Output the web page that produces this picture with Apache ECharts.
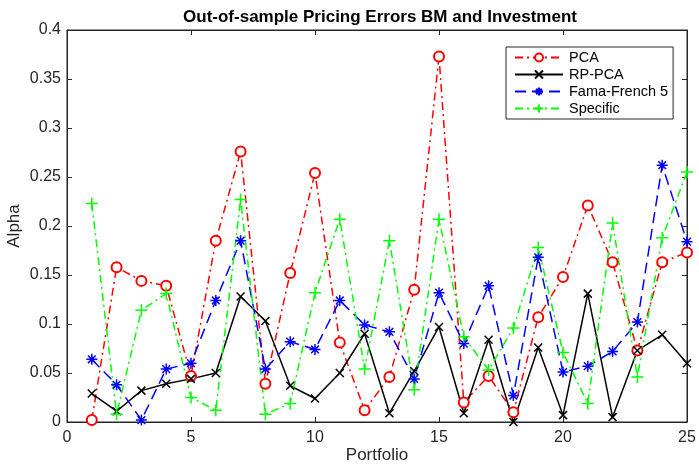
<!DOCTYPE html>
<html>
<head>
<meta charset="utf-8">
<script src="https://cdn.jsdelivr.net/npm/echarts@6/dist/echarts.min.js"></script>
<style>
  html, body { margin: 0; padding: 0; background: #fff; }
  #chart { width: 699px; height: 466px; }
</style>
</head>
<body>
<div id="chart"></div>
<script>
// Portfolio index and out-of-sample alpha for each model
const portfolios = [1,2,3,4,5,6,7,8,9,10,11,12,13,14,15,16,17,18,19,20,21,22,23,24,25];
const pca      = [0.002,0.158,0.144,0.139,0.047,0.185,0.276,0.039,0.152,0.254,0.081,0.012,0.046,0.135,0.373,0.020,0.047,0.010,0.107,0.148,0.221,0.163,0.073,0.163,0.173];
const rppca    = [0.029,0.011,0.032,0.039,0.044,0.050,0.128,0.103,0.037,0.024,0.050,0.090,0.009,0.052,0.097,0.009,0.084,0.000,0.076,0.007,0.131,0.005,0.073,0.089,0.060];
const ff5      = [0.064,0.038,0.002,0.054,0.060,0.124,0.185,0.054,0.082,0.074,0.124,0.099,0.092,0.044,0.132,0.080,0.139,0.027,0.168,0.051,0.057,0.072,0.102,0.262,0.184];
const specific = [0.223,0.008,0.114,0.131,0.025,0.012,0.227,0.008,0.019,0.132,0.207,0.054,0.185,0.033,0.207,0.087,0.053,0.096,0.178,0.071,0.019,0.203,0.046,0.188,0.255];
const xTicks = [0, 5, 10, 15, 20, 25];
const yTicks = [0, 0.05, 0.1, 0.15, 0.2, 0.25, 0.3, 0.35, 0.4];

const pairs = ys => portfolios.map((p, i) => [p, ys[i]]);

const FONT = '"Liberation Sans", Arial, sans-serif';
const INK = '#262626';

const xMark = 'path://M0,0L10,10M10,0L0,10';
const starMark = 'path://M5,0L5,10M0,5L10,5M1.5,1.5L8.5,8.5M8.5,1.5L1.5,8.5';
const plusMark = 'path://M5,0L5,10M0,5L10,5';

// fresh style objects per axis so nothing is shared between components
const axisLineStyle = () => ({ show: true, onZero: false, lineStyle: { color: INK, width: 1 } });
const innerTick = () => ({ show: true, inside: true, length: 5, lineStyle: { color: INK, width: 1 } });

const chart = echarts.init(document.getElementById('chart'));

chart.setOption({
  animation: false,
  backgroundColor: '#fff',
  title: {
    text: 'Out-of-sample Pricing Errors BM and Investment',
    left: 375, top: 4, textAlign: 'center',
    textStyle: { fontFamily: FONT, fontSize: 17, fontWeight: 'bold', color: '#000' }
  },
  legend: {
    orient: 'vertical',
    left: 506, top: 47,
    padding: [3, 5, 3, 8],
    itemGap: 2,
    itemWidth: 48, itemHeight: 10,
    borderColor: INK, borderWidth: 1, backgroundColor: '#fff',
    textStyle: { fontFamily: FONT, fontSize: 14.5, lineHeight: 14.5, color: '#000', padding: [0, 0, 0, 1] },
    data: ['PCA', 'RP-PCA', 'Fama-French 5', 'Specific']
  },
  grid: {
    left: 67, top: 30, width: 620, height: 392, containLabel: false,
    outerBoundsMode: 'none',
    show: true, borderColor: INK, borderWidth: 1, backgroundColor: 'transparent'
  },
  xAxis: [{
    type: 'value', min: 0, max: 25, interval: 5, position: 'bottom',
    name: 'Portfolio', nameLocation: 'middle', nameGap: 25, nameMoveOverlap: false,
    nameTextStyle: { fontFamily: FONT, fontSize: 17, color: INK },
    axisLine: axisLineStyle(), axisTick: innerTick(),
    axisLabel: { fontFamily: FONT, fontSize: 16, color: INK, margin: 8,
      formatter: v => xTicks.includes(v) ? String(v) : '' },
    splitLine: { show: false }
  }, {
    type: 'value', min: 0, max: 25, interval: 5, position: 'top',
    axisLine: axisLineStyle(), axisTick: innerTick(), axisLabel: { show: false }, splitLine: { show: false }
  }],
  yAxis: [{
    type: 'value', min: 0, max: 0.4, interval: 0.05, position: 'left',
    name: 'Alpha', nameLocation: 'middle', nameGap: 44, nameRotate: 90, nameMoveOverlap: false,
    nameTextStyle: { fontFamily: FONT, fontSize: 17, color: INK },
    axisLine: axisLineStyle(), axisTick: innerTick(),
    axisLabel: { fontFamily: FONT, fontSize: 16, color: INK, margin: 6,
      formatter: v => { const t = yTicks.find(k => Math.abs(k - v) < 1e-9); return t === undefined ? '' : String(t); } },
    splitLine: { show: false }
  }, {
    type: 'value', min: 0, max: 0.4, interval: 0.05, position: 'right',
    axisLine: axisLineStyle(), axisTick: innerTick(), axisLabel: { show: false }, splitLine: { show: false }
  }],
  series: [
    {
      name: 'PCA', type: 'line', data: pairs(pca),
      symbol: 'emptyCircle', symbolSize: 10,
      itemStyle: { color: '#ff0000', borderWidth: 1.3 },
      lineStyle: { color: '#ff0000', width: 1.5, type: [8, 4, 2, 4] }
    },
    {
      name: 'RP-PCA', type: 'line', data: pairs(rppca),
      symbol: xMark, symbolSize: 8,
      itemStyle: { color: '#000', borderColor: '#000', borderWidth: 1.5 },
      lineStyle: { color: '#000', width: 1.5, type: 'solid' }
    },
    {
      name: 'Fama-French 5', type: 'line', data: pairs(ff5),
      symbol: starMark, symbolSize: 11,
      itemStyle: { color: '#0000ff', borderColor: '#0000ff', borderWidth: 1.5 },
      lineStyle: { color: '#0000ff', width: 1.5, type: [11, 6] }
    },
    {
      name: 'Specific', type: 'line', data: pairs(specific),
      symbol: plusMark, symbolSize: 12,
      itemStyle: { color: '#00ff00', borderColor: '#00ff00', borderWidth: 1.5 },
      lineStyle: { color: '#00ff00', width: 1.5, type: [8, 4, 2, 4] }
    }
  ]
});
</script>
</body>
</html>
